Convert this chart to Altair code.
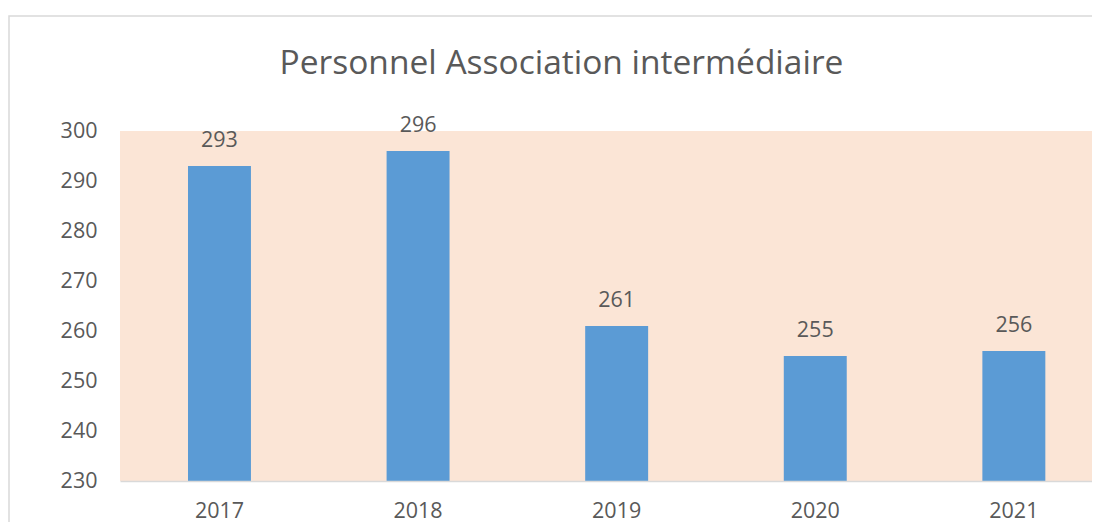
import altair as alt
import pandas as pd

years = ["2017", "2018", "2019", "2020", "2021"]
values = [293, 296, 261, 255, 256]
title_text = "Personnel Association intermédiaire"

df = pd.DataFrame({"year": years, "value": values})

FONT = "Open Sans"
TXT = "#595959"
FS = 21.5

x_scale = alt.Scale(paddingInner=0.683, paddingOuter=0.2887, align=0.593)

x_enc = alt.X("year:N", title=None, sort=years, scale=x_scale,
              axis=alt.Axis(labelAngle=0, labelFontSize=FS, labelColor=TXT, labelFont=FONT,
                            labelPadding=19, ticks=False, domainColor="#D9D9D9",
                            domainWidth=1.5, grid=False, zindex=1))
y_enc = alt.Y("value:Q", title=None,
              scale=alt.Scale(domain=[230, 300], nice=False, zero=False),
              axis=alt.Axis(values=[230, 240, 250, 260, 270, 280, 290, 300],
                            labelFontSize=FS, labelColor=TXT, labelFont=FONT,
                            labelPadding=23, ticks=False, domain=False, grid=False))

base = alt.Chart(df)

border = base.mark_rect(fillOpacity=0, stroke="#D9D9D9", strokeWidth=1.5).encode(
    x=alt.value(-111), x2=alt.value(1000), y=alt.value(-115), y2=alt.value(410)
).transform_filter("datum.year == '2017'")

bars = base.mark_bar(color="#5B9BD5", clip=True).encode(x=x_enc, y=y_enc)
labels = base.mark_text(dy=-19, baseline="alphabetic", fontSize=FS, color=TXT, font=FONT).encode(
    x=alt.X("year:N", sort=years, scale=x_scale), y="value:Q", text="value:Q")

chart = alt.layer(border, bars, labels).properties(
    width=972, height=350,
    autosize=alt.AutoSizeParams(type="none"),
    padding={"left": 112, "top": 123, "right": 0, "bottom": 41},
    title=alt.TitleParams(title_text, fontSize=33.5, font=FONT, color=TXT, fontWeight="normal",
                          anchor="middle", frame="group", dx=-44.5, offset=-92,
                          baseline="alphabetic"),
).configure_view(fill="#FBE5D6", stroke=None)

chart.save("out.html", embed_options={"renderer": "svg", "actions": False})
